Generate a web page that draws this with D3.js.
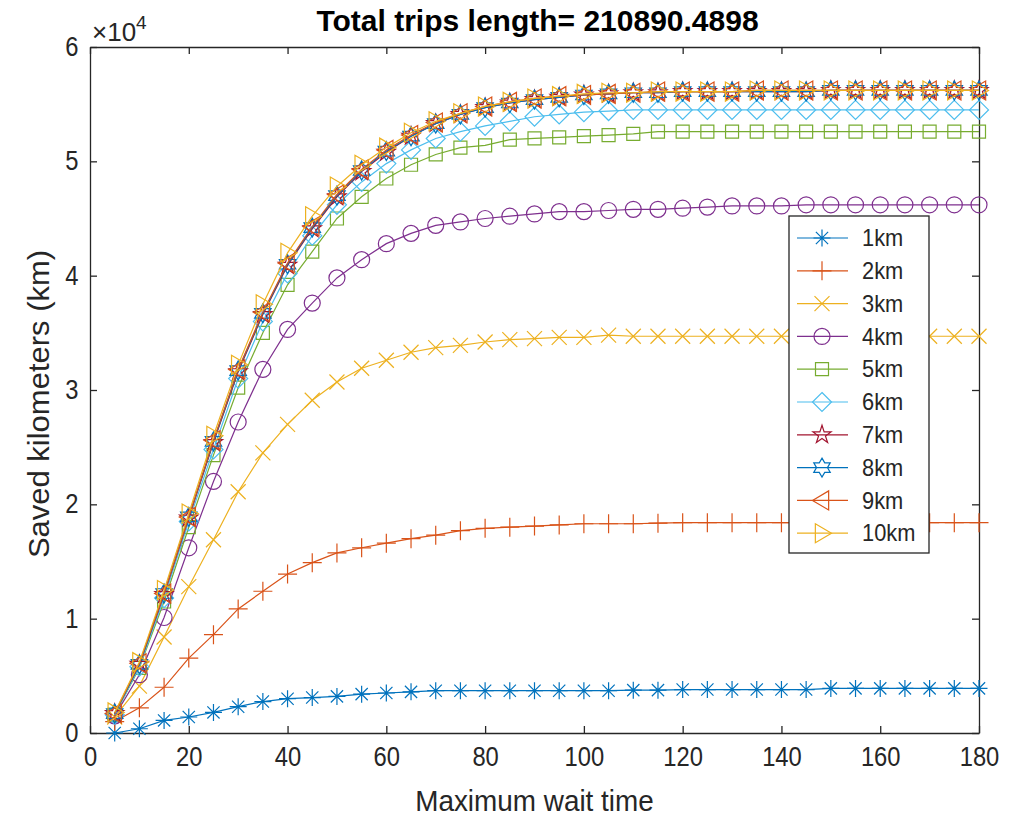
<!DOCTYPE html>
<html><head><meta charset="utf-8">
<script src="https://cdn.jsdelivr.net/npm/d3@7"></script>
<style>
body{margin:0;background:#fff}
text{font-family:"Liberation Sans",Arial,Helvetica,sans-serif;fill:#262626}
</style>
</head><body>
<svg id="chart" width="1010" height="818"></svg>
<script>
// ---------- data ----------
const waitTimes = [5,10,15,20,25,30,35,40,45,50,55,60,65,70,75,80,85,90,95,100,105,110,115,120,125,130,135,140,145,150,155,160,165,170,175,180];
const km1 = [0,370,1100,1400,1800,2300,2750,3000,3100,3200,3400,3500,3600,3700,3700,3700,3700,3700,3700,3700,3700,3750,3750,3800,3800,3800,3800,3800,3800,3900,3900,3900,3900,3900,3900,3900];
const km2 = [1000,2200,4000,6550,8600,10850,12400,13900,14900,15750,16200,16600,17000,17300,17700,17900,18000,18100,18200,18300,18300,18300,18350,18400,18400,18400,18400,18400,18400,18400,18400,18400,18400,18400,18400,18400];
const km3 = [1400,4100,8400,12800,16900,21100,24500,27000,29100,30700,31900,32600,33300,33700,33900,34200,34400,34500,34600,34600,34800,34700,34700,34700,34700,34700,34700,34700,34700,34700,34700,34700,34700,34700,34700,34700];
const km4 = [1500,5100,10100,16200,22000,27200,31800,35300,37600,39800,41400,42800,43700,44400,44700,45000,45200,45400,45600,45600,45700,45800,45800,45900,46000,46100,46100,46100,46200,46200,46200,46200,46200,46200,46200,46200];
const km5 = [1600,5700,11500,18000,24300,30200,35000,39200,42100,45000,46900,48500,49700,50600,51200,51400,51900,52000,52100,52200,52300,52400,52600,52600,52600,52600,52600,52600,52600,52600,52600,52600,52600,52600,52600,52600];
const km6 = [1600,5800,11800,18500,24800,31000,36000,40200,43500,46200,48200,49800,51000,52000,52600,53100,53500,53900,54100,54300,54400,54500,54500,54500,54500,54500,54500,54500,54500,54500,54500,54500,54500,54500,54500,54500];
const km7 = [1700,6000,12100,18800,25400,31600,36600,40900,44100,46900,49100,50800,52200,53300,54100,54700,55100,55400,55600,55800,55900,56000,56000,56100,56100,56100,56100,56100,56100,56200,56200,56200,56200,56200,56200,56200];
const km8 = [1700,6000,12200,18900,25500,31700,36700,41000,44200,47000,49200,50900,52200,53300,54100,54700,55100,55400,55600,55800,55900,56000,56000,56100,56100,56100,56100,56100,56100,56200,56200,56200,56200,56200,56200,56200];
const km9 = [1700,6100,12200,18900,25600,31800,36800,41100,44300,47100,49300,51000,52300,53400,54200,54800,55200,55500,55700,55800,55900,56000,56100,56100,56100,56100,56200,56200,56200,56200,56200,56200,56200,56200,56200,56200];
const km10 = [1800,6200,12500,19200,26000,32200,37500,42000,45200,47800,49700,51200,52500,53500,54200,54800,55200,55500,55700,55900,56000,56000,56100,56100,56100,56100,56200,56200,56200,56200,56200,56200,56200,56200,56200,56200];
const seriesValues = [km1,km2,km3,km4,km5,km6,km7,km8,km9,km10];
const seriesNames = ["1km","2km","3km","4km","5km","6km","7km","8km","9km","10km"];
const seriesColors = ["#0072BD","#D95319","#EDB120","#7E2F8E","#77AC30","#4DBEEE","#A2142F","#0072BD","#D95319","#EDB120"];
const seriesMarkers = ["asterisk","plus","x","circle","square","diamond","pentagram","hexagram","triLeft","triRight"];
const xTicks = [0,20,40,60,80,100,120,140,160,180];
const yTicks = [0,10000,20000,30000,40000,50000,60000];
const titleText = "Total trips length= 210890.4898";
const xLabel = "Maximum wait time";
const yLabel = "Saved kilometers (km)";

// ---------- layout ----------
const L = 90, R = 979, T = 47, B = 733;
const svg = d3.select("#chart");
const x = d3.scaleLinear().domain([0,180]).range([L,R]);
const y = d3.scaleLinear().domain([0,60000]).range([B,T]);
const axisCol = "#262626";
const FONT = "'Liberation Sans',Arial,sans-serif";

function markerPath(type){
  const p = d3.path();
  if(type==="asterisk"){ const s=8.5,d=s*0.72; p.moveTo(-s,0);p.lineTo(s,0);p.moveTo(0,-s);p.lineTo(0,s);p.moveTo(-d,-d);p.lineTo(d,d);p.moveTo(-d,d);p.lineTo(d,-d); }
  else if(type==="plus"){ const s=9.5; p.moveTo(-s,0);p.lineTo(s,0);p.moveTo(0,-s);p.lineTo(0,s); }
  else if(type==="x"){ const d=7.5; p.moveTo(-d,-d);p.lineTo(d,d);p.moveTo(-d,d);p.lineTo(d,-d); }
  else if(type==="circle"){ p.arc(0,0,8,0,2*Math.PI); p.closePath(); }
  else if(type==="square"){ p.rect(-6.5,-6.5,13,13); }
  else if(type==="diamond"){ const s=9.5; p.moveTo(0,-s);p.lineTo(s,0);p.lineTo(0,s);p.lineTo(-s,0);p.closePath(); }
  else if(type==="pentagram"||type==="hexagram"){
    const n = type==="pentagram"?5:6, Ro = 9.5, Ri = type==="pentagram"?Ro*0.382:Ro*0.577;
    for(let i=0;i<2*n;i++){ const a=-Math.PI/2+i*Math.PI/n, r=i%2?Ri:Ro; const px=r*Math.cos(a), py=r*Math.sin(a); if(i===0)p.moveTo(px,py); else p.lineTo(px,py);} p.closePath();
  }
  else if(type==="triLeft"){ const s=9.5; p.moveTo(-s,0);p.lineTo(s*0.7,-s);p.lineTo(s*0.7,s);p.closePath(); }
  else if(type==="triRight"){ const s=9.5; p.moveTo(s,0);p.lineTo(-s*0.7,-s);p.lineTo(-s*0.7,s);p.closePath(); }
  return p.toString();
}

// axes box
const gx = svg.append("g").attr("transform",`translate(0,${B})`)
  .call(d3.axisBottom(x).tickValues(xTicks).tickSizeInner(-7).tickSizeOuter(0).tickPadding(14).tickFormat(d3.format("d")));
const gxt = svg.append("g").attr("transform",`translate(0,${T})`)
  .call(d3.axisTop(x).tickValues(xTicks).tickSizeInner(-7).tickSizeOuter(0).tickFormat(""));
const gy = svg.append("g").attr("transform",`translate(${L},0)`)
  .call(d3.axisLeft(y).tickValues(yTicks).tickSizeInner(-7).tickSizeOuter(0).tickPadding(13).tickFormat(d=>d/10000));
const gyr = svg.append("g").attr("transform",`translate(${R},0)`)
  .call(d3.axisRight(y).tickValues(yTicks).tickSizeInner(-7).tickSizeOuter(0).tickFormat(""));
[gx,gxt,gy,gyr].forEach(g=>{
  g.selectAll("path.domain").attr("stroke",axisCol).attr("stroke-width",1.3);
  g.selectAll(".tick line").attr("stroke",axisCol).attr("stroke-width",1.3);
  g.selectAll(".tick text").attr("font-size",27).attr("fill",axisCol).style("font-family",FONT)
    .attr("transform","scale(0.88,1)");
});

// exponent label
const ex = svg.append("text").attr("x",92).attr("y",41).attr("font-size",26);
ex.append("tspan").text("×10");
ex.append("tspan").attr("dy",-12).attr("font-size",19).text("4");

// series
const line = d3.line().x((d,i)=>x(waitTimes[i])).y(d=>y(d));
seriesValues.forEach((vals,k)=>{
  const g = svg.append("g");
  g.append("path").attr("d",line(vals)).attr("fill","none").attr("stroke",seriesColors[k]).attr("stroke-width",1.2);
  g.selectAll("path.m").data(vals).enter().append("path").attr("class","m")
    .attr("d",markerPath(seriesMarkers[k]))
    .attr("transform",(d,i)=>`translate(${x(waitTimes[i])},${y(d)})`)
    .attr("fill","none").attr("stroke",seriesColors[k]).attr("stroke-width",1.2);
});

// title and labels
svg.append("text").attr("transform",`translate(${(L+R)/2+3},31)`).attr("text-anchor","middle")
  .attr("font-size",30).attr("font-weight","bold").style("fill","#000").text(titleText);
svg.append("text").attr("transform",`translate(${(L+R)/2},811) scale(0.93,1)`).attr("text-anchor","middle")
  .attr("font-size",30).text(xLabel);
svg.append("text").attr("transform",`translate(49,404) rotate(-90) scale(1,0.93)`).attr("text-anchor","middle")
  .attr("font-size",31).text(yLabel);

// legend
const lg = svg.append("g");
lg.append("rect").attr("x",789).attr("y",216).attr("width",140).attr("height",337)
  .attr("fill","#fff").attr("stroke",axisCol).attr("stroke-width",1.3);
seriesNames.forEach((name,k)=>{
  const cy = 238 + k*32.8;
  lg.append("line").attr("x1",797).attr("x2",848).attr("y1",cy).attr("y2",cy).attr("stroke",seriesColors[k]).attr("stroke-width",1.2);
  lg.append("path").attr("d",markerPath(seriesMarkers[k])).attr("transform",`translate(822,${cy})`)
    .attr("fill","none").attr("stroke",seriesColors[k]).attr("stroke-width",1.2);
  lg.append("text").attr("transform",`translate(862,${cy}) scale(0.95,1)`).attr("dy","0.36em").attr("font-size",23).text(name);
});
</script>
</body></html>
